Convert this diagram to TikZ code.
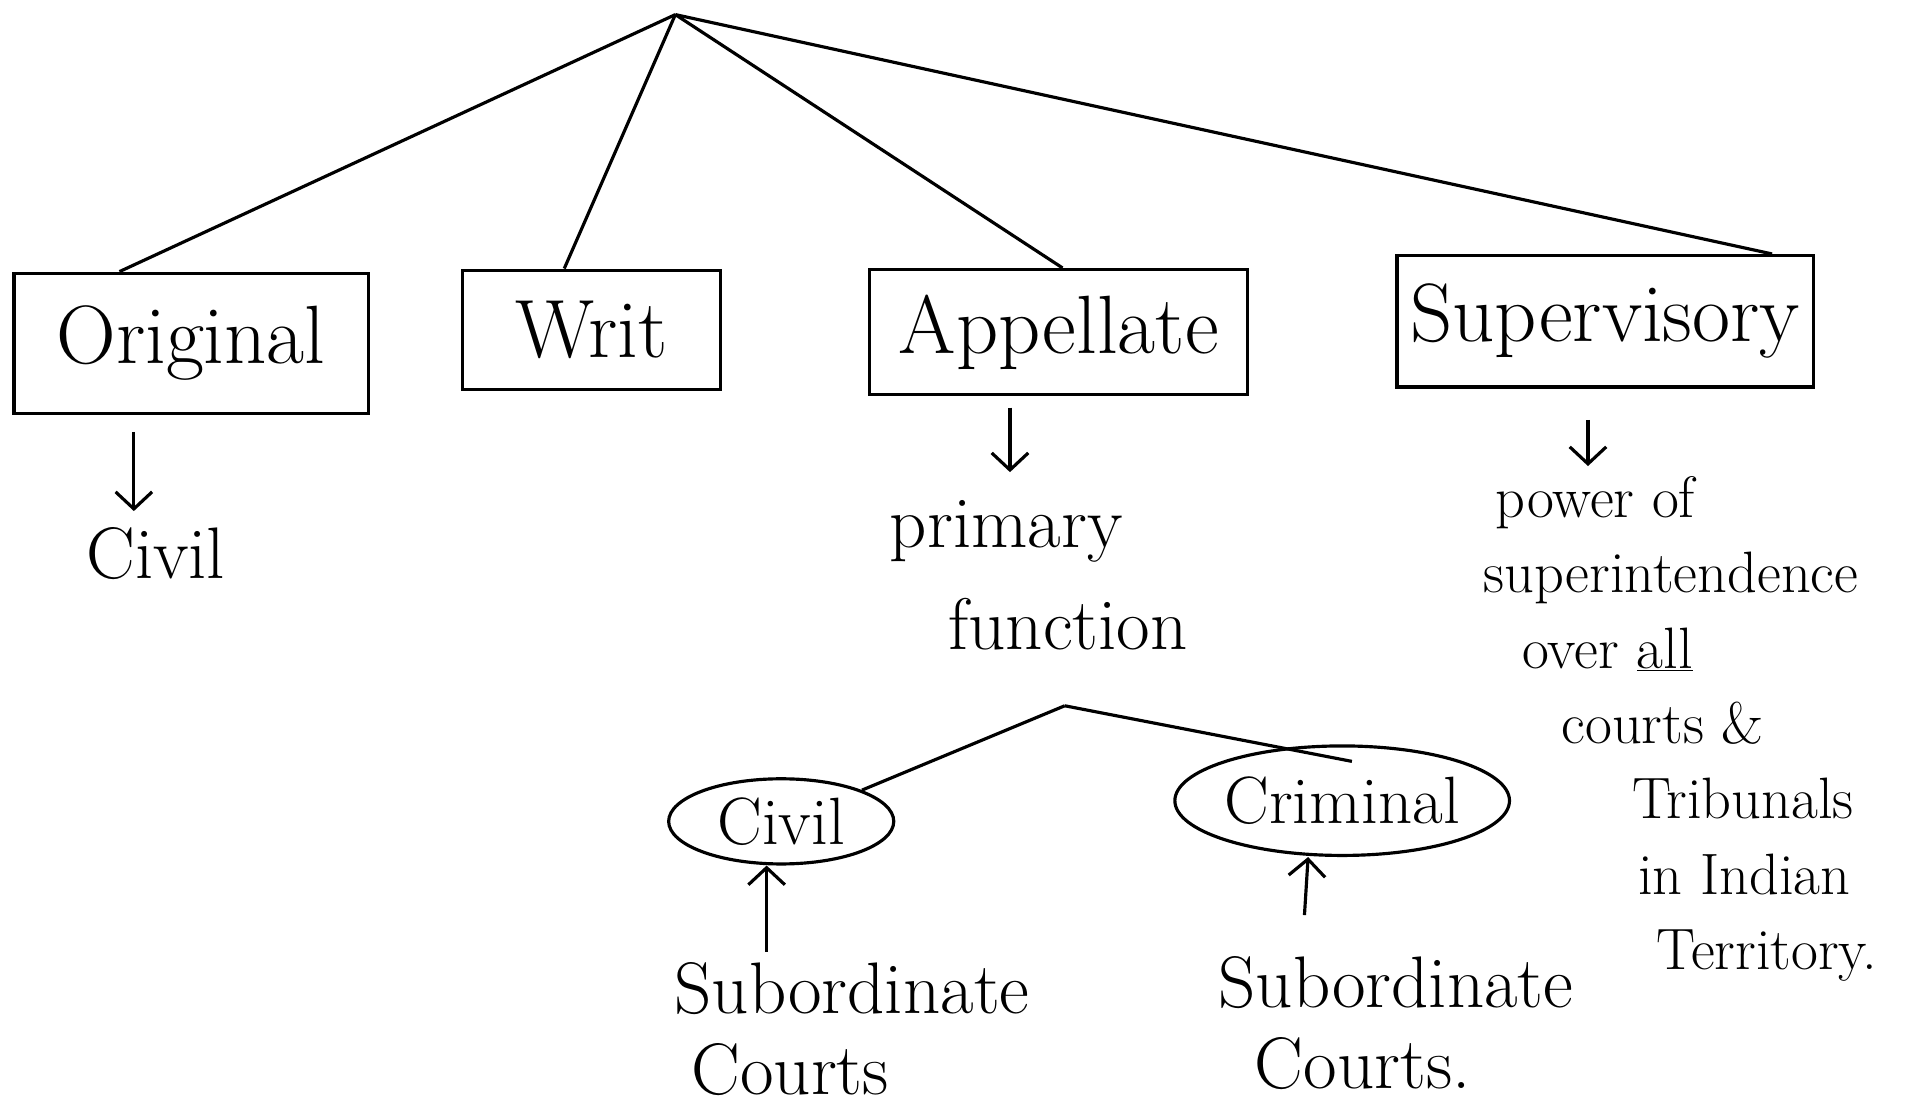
\documentclass[tikz,border=0pt]{standalone}
\usetikzlibrary{arrows.meta,shapes.geometric,calc}
\begin{document}
\begin{tikzpicture}[x=1pt,y=-1pt,line width=2.6pt,
  every node/.style={inner sep=0pt},
  boxlbl/.style={draw,rectangle,font=\fontsize{68}{72}\selectfont},
  ell/.style={draw,ellipse,font=\fontsize{55}{60}\selectfont},
  bigtxt/.style={font=\fontsize{60}{66}\selectfont},
  arr/.style={-{Straight Barb[length=14pt,width=30pt,line width=2.6pt]}},
  conn/.style={line width=2.6pt}]
\useasboundingbox (0,0) rectangle (1568,915);
\coordinate (apex) at (555,12);
\node[boxlbl,minimum width=291pt,minimum height=115pt] (orig) at (157,282) {Original};
\node[boxlbl,minimum width=212pt,minimum height=98pt] (writ) at (486,271) {Writ};
\node[boxlbl,minimum width=311pt,minimum height=103pt] (appe) at (870,273) {Appellate};
\node[boxlbl,minimum width=342pt,minimum height=108pt] (supe) at (1319,264) {Supervisory};
\draw[conn] (apex) -- ($(orig.north west)+(88,0)$);
\draw[conn] (apex) -- ($(writ.north west)+(85,0)$);
\draw[conn] (apex) -- ($(appe.north west)+(160,0)$);
\draw[conn] (apex) -- ($(supe.north east)+(-35,0)$);
% Original branch
\coordinate (o1) at (110,355);
\node[bigtxt] (civil1) at (128,455) {Civil};
\draw[arr] (o1) -- (110,420);
% Appellate branch
\coordinate (a1) at (830,335);
\node[bigtxt,align=left,anchor=north west,font=\fontsize{60}{84}\selectfont] (prim) at (730,410) {primary\\\hspace*{48pt}function};
\draw[arr] (a1) -- (830,388);
\coordinate (split) at (875,580);
\node[ell,minimum width=185pt,minimum height=70pt] (civ2) at (642,675) {Civil};
\node[ell,minimum width=275pt,minimum height=90pt] (crim) at (1103,658) {Criminal};
\draw[conn] (split) -- (civ2.north east);
\draw[conn] (split) -- ($(crim.north)+(8,14)$);
\node[bigtxt,align=left,anchor=north west] (sub1) at (553,790) {Subordinate\\\hspace*{14pt}Courts};
\node[bigtxt,align=left,anchor=north west] (sub2) at (1000,785) {Subordinate\\\hspace*{30pt}Courts.};
\draw[arr] (630,782) -- (civ2.south -| 630,0);
\draw[arr] (1072,752) -- (crim.south -| 1075,0);
% Supervisory branch
\coordinate (s1) at (1305,345);
\draw[arr] (s1) -- (1305,383);
\node[align=left,anchor=north west,font=\fontsize{48}{62}\selectfont] (powr) at (1218,390)
  {\hspace*{10pt}power of\\superintendence\\\hspace*{32pt}over \underline{all}\\\hspace*{64pt}courts \&\\\hspace*{122pt}Tribunals\\\hspace*{127pt}in Indian\\\hspace*{142pt}Territory.};
\end{tikzpicture}
\end{document}
